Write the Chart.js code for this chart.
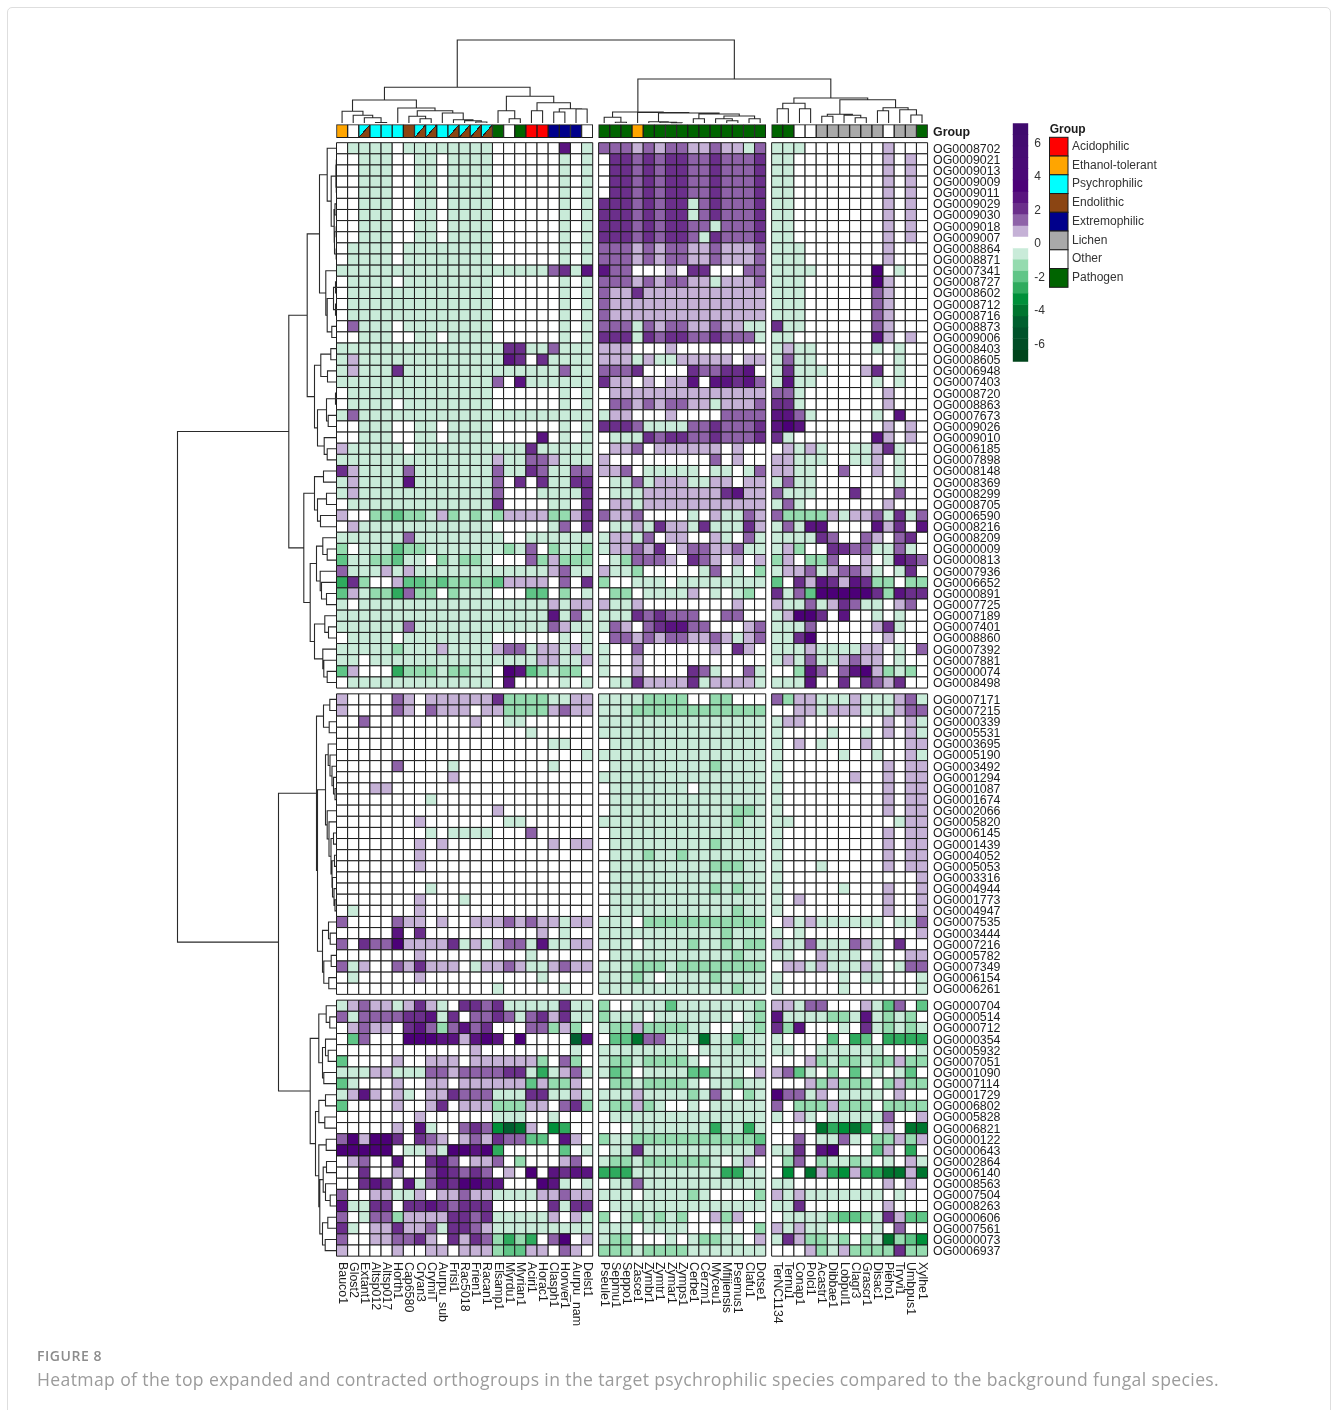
<!DOCTYPE html>
<html>
<head>
<meta charset="utf-8">
<title>Figure 8</title>
<script src="https://cdn.jsdelivr.net/npm/chart.js@4"></script>
<style>
  html, body { margin: 0; background: #fff; width: 1333px; height: 1410px; overflow: hidden; }
  #card { position: absolute; left: 7px; top: 7px; width: 1322px; height: 1440px; border: 1px solid #dedede; border-radius: 5px; }
  #main { position: absolute; left: 0; top: 0; }
  #scaleBar { position: absolute; left: 1005px; top: 110px; }
  #figNo { position: absolute; left: 37px; top: 1346px; font: 600 14px "Open Sans", sans-serif; letter-spacing: 0.55px; color: #8c8c8c; }
  #caption { position: absolute; left: 37px; top: 1367px; font: 17.6px "Open Sans", sans-serif; letter-spacing: 0.36px; color: #9b9b9b; white-space: nowrap; }
</style>
</head>
<body>
<div id="card"></div>
<canvas id="main" width="1333" height="1410"></canvas>
<canvas id="scaleBar" width="60" height="265"></canvas>
<div id="figNo">FIGURE 8</div>
<div id="caption">Heatmap of the top expanded and contracted orthogroups in the target psychrophilic species compared to the background fungal species.</div>
<script>
// Column names, one list per column cluster
const colsLeft = ['Bauco1','Glost2','Extant1','Altsp012','Altsp017','Horth1','Cap6580','Cryan3','CrymiT','Aurpu_sub','Frisi1','Rac5018','Frien1','Racan1','Elsamp1','Myrdu1','Myrian1','Aciri1','Horac1','Clasph1','Horwer1','Aurpu_nam','Delst1'];
const colsMid = ['Pseule1','Sepmu1','Seppo1','Zasce1','Zymbr1','Zymtr1','Zymar1','Zymps1','Cerbe1','Cerzm1','Myceu1','Mfijiensis','Psemus1','Clafu1','Dotse1'];
const colsRight = ['TerNC1134','Ternu1','Conap1','Polci1','Acastr1','Dibbae1','Lobpul1','Clagr3','Grascr1','Disac1','Pieho1','Tryvi1','Umbpus1','Xylhe1'];

// Row names, one list per row cluster
const rowsTop = ['OG0008702','OG0009021','OG0009013','OG0009009','OG0009011','OG0009029','OG0009030','OG0009018','OG0009007','OG0008864','OG0008871','OG0007341','OG0008727','OG0008602','OG0008712','OG0008716','OG0008873','OG0009006','OG0008403','OG0008605','OG0006948','OG0007403','OG0008720','OG0008863','OG0007673','OG0009026','OG0009010','OG0006185','OG0007898','OG0008148','OG0008369','OG0008299','OG0008705','OG0006590','OG0008216','OG0008209','OG0000009','OG0000813','OG0007936','OG0006652','OG0000891','OG0007725','OG0007189','OG0007401','OG0008860','OG0007392','OG0007881','OG0000074','OG0008498'];
const rowsMiddle = ['OG0007171','OG0007215','OG0000339','OG0005531','OG0003695','OG0005190','OG0003492','OG0001294','OG0001087','OG0001674','OG0002066','OG0005820','OG0006145','OG0001439','OG0004052','OG0005053','OG0003316','OG0004944','OG0001773','OG0004947','OG0007535','OG0003444','OG0007216','OG0005782','OG0007349','OG0006154','OG0006261'];
const rowsLow = ['OG0000704','OG0000514','OG0000712','OG0000354','OG0005932','OG0007051','OG0001090','OG0007114','OG0001729','OG0006802','OG0005828','OG0006821','OG0000122','OG0000643','OG0002864','OG0006140','OG0008563','OG0007504','OG0008263','OG0000606','OG0007561','OG0000073','OG0006937'];

// Group of each column: AC acidophilic, ET ethanol, PS psychro, EN endolithic, EX extremo, LI lichen, OT other, PA pathogen, PE psychro + endolithic
const groupsLeft = ['ET','OT','PE','PS','PS','PS','EN','PE','PE','PS','PE','PE','PE','PE','PA','OT','PA','AC','AC','EX','EX','EX','OT'];
const groupsMid = ['PA','PA','PA','ET','PA','PA','PA','PA','PA','PA','PA','PA','PA','PA','PA'];
const groupsRight = ['PA','PA','OT','OT','LI','LI','LI','LI','LI','LI','OT','LI','LI','PA'];

// Binned log ratios. '.' is 0, digits 1..5 rising, letters a..g falling
const topLeft = [
'.aaaa.aaaaaaaa......4.a','..aaa..aa.aaaa......a.a','..aaa..aa.aaaa......a.a','..aaa..aa.aaaa......a.a','..aaa..aa.aaaa......a.a','..aaa..aa.aaaa......a.a','..aaa..aa.aaaa......a.a','..aaa..aa.aaaa......a.a','..aaa..aa.aaaa......a.a',
'.aaaa.aaaaaaaa......a.a','.aaaa.aaaaaaaa......a.a','aaaaaaaaaaaaaaaaaaa23a4','.aaaa.aaaaaaaa......a.a','.aaaaaaaaaaaaa......a.a','.aaaaaaaaaaaaa......a.a','.aaaaaaaaaaaaa......a.a','.2aaa.aaaaaaaa......a.a','..aaa..aa.aaaa......a.a',
'aaaaaaaaaaaaaaa33aa2aaa','a1aaaaaaaaaaaaa43.3aaaa','a1aaa3aaaaaaaaaaaaaa2aa','aaaaaaaaaaaaaa2.4aaaaaa','.aaaaaaaaaaaaa......a.a','.aaaa.aaaaaaaa......a.a','a2aaaaaaaaaaaaaaaaaaaaa','..aaa..aa.aaaa......a.a','..aaa..aa.aaaa....4.a.a',
'1aaaaa.aaaaaaaaaa3aaaaa','aaaaaaaaaaaaaa1aa221aaa','31aaaa2aaaaaaa2aa32aa22','a1aaaa4aaaaaaa2.3.3aa33','a1aaaaaaaaaaaa2...aaaa3','.aaaaaaaaaaaaa3....aa.3','1..bbcbba1babab1111bb13','.1aaaaaaaaaaaa.....a2.3','aaaaaa2aaaaaaaa..aaaaaa',
'b.aaacbbaaaaaaaba2.baab','caabbcaa.babba...2b1bbb','2aaa1a1aaaaaaaaaaaa12aa','d3b..1ccbcbbbbc1111.2.3','c1abbd2bb.baaa...cc.b.a','a.aaaaaaaaaaaaaaaaa1a11','aaaaaaaaaaaaaaaaaaa4a2a','aaaaaa2aaaaaaaaaaaa21aa','.aaaa.aaaaaaaa......a.a',
'aaaaabaaa1aaaa122a11a1a','aa.aaaaaaaaaaaaaaa11aa1','c1...dbbbabbaa.54cbabb.','.aaaaaaaaaaaaa.4....a.a'];
const topMid = [
'2221212211211a2','.33232332232223','.33232332232223','.33232332232223','.33232332232223','33323233a232223','33323233a232223','3332323322a2223','333232332a32223','222121221121112','222121221121112','422...1.33...22','2221212211a1112','211311111111111','211111111111111','211111111111111','222a212211211aa','333a3233223222a',
'111...1........','111a1aa11111.11','2223....322334.','311.1.114.44342','.11111111111111','.221212211a1112','a11...1....2222','3332aaaa2232223','.aaa32332232223','.112.111111.1..','1.........2.1..','112.aaaaa.aa.a2','.aa2a111aa11.11','.aaa11111113411','.11a11111111111','2112....a.1aa21','.aa1a311a3aaa31','a11a2.11..1a.2a',
'a11213.122112aa','.ab2221.321.1.1','1aab.....a2.a.b','b..aaa.aaaaaaaa','.bb.aaaa1.a.ab.','1aa1........1..','aaa323222..22..','a21.234422...12','.22121221121a12','a..2......1.31.','a..1...........','a..1....32a..2a','.aa311113a1111a'];
const topRight = [
'aaa.......1...','aa........1.1.','aa........1.1.','aa........1.1.','aa........1.1.','aa........1.1.','aa........1.1.','aa........1.1.','aa........1.1.','aaa.......1...','aaa.......1...','aaaa.....5.a..','aaa......51...','aaa......21...','aaa......21...','aaa......21...','3aa......21...','aa.......41.1.',
'a1aa.....a.a..','a2aa.......a..','a3aaa...13.a..','a4aa.....a.a..','22a.......1...','33a.......1...','442a.....a.4..','454.......1.1.','3a.......41.1.','.1a1a..aa13a..','11aaa..aa1.a..','11aa..2..1.a..','a2aa.......a..','2aaa...3...2..','a2a.......1...','2bbbb1a112a3a2','a2a44....413.4','aaaa32..21.23.',
'a1b..3322aa2a.','b1.bb2..1.a432','a112a1221a.a3.','c.3143143bb.bb','3a2c555553b433','1aa2a132aa.12.','a1553.4..a.a..','aaa2.....13a..','aa35......1...','aaa1aaaa11.a.2','a1a2aa1211.a..','..b42.2451bab.','aaa4..3.3213..'];

const middleLeft = [
'1....21.1111113bbbbaa11','1....21.2111.11bbbb1211','..2.........1..aa......','.................a.....','...................aa..','......................a','.....2....a........a...','..........1............','...11..................','........a..............','..............1........','.......1.......aa......','........a.aaaa...2.....','.......1.1.........1.11',
'.......1...............','.......1...............','.......................','........a..............','.......1...a...........','.a.....1...............','2....211.1..11121211a11','.....4.3..........1.a..','2.322511113a1a122a4aa11','.......1.........a.....','2a1..213111.a1121aa1211','.a.....1..........a....','..............a.....a..'];
const middleMid = [
'aaaabbbb..bb...','aaabbbbbbbbbbbb','aaaaaaaaaaaaaaa','aaaaaaaaaaaaaaa','.aaaaaaaaaaaaaa','aaaaaaaaaaaaaaa','.aaaaaaaaabaaaa','aaaaaaaaaaaaaaa','.aaaaaaa.aaaaaa','.aaaaaaaaaaaaaa','.aaaaaaaaaaabba','aaaaaaaaaaaabaa','.aaaaaaaaaaaaaa','.aaaaaaaaabaaaa',
'.aaabaabaaaaaaa','.aaaaaaaaabbbaa','.aaaaaaaaaaaaaa','.aaaaaaaaababaa','.aaaaaaaaaaaaaa','.aaaaaaaaaaabaa','aaa.bbbbbbbbbbb','aaaaaaaaaaabaaa','aaa.aaaabaababb','.aaaaaaaaaaabaa','aaabbbabbbbbbbb','aaaba.aaaabaaaa','aaaaaaaaaaaabaa'];
const middleRight = [
'2b11aaa1aaa12a','..11a111aaa122','a11.......1.1a','a....a..a.1.1a','a.1.a...1...11','a.....a..a..1a','a.........1.11','a......1..1.11','a.........1.11','a.........1.11','a.........1.11','aa.........a11','a.........1.11','a.........1.11',
'a.........1.11','a...a.....1.11','a............1','a.....a...1..1','a.1.......1..1','a.........1..1','.1a1aaaaaa.aa2','a.a..........1','1aa2aaa21a.3..','aa..1aaa.a..11','.11a1aaa1a.a22','a.....a.aa...a','a.....a......a'];

const lowLeft = [
'a1211a131a.3323aaaaa3aa','2a2222334a3.2232a2313aa','.1211.342b2423...22b1b.','.c2...555441454.5....g4','............1........a.','c....1..111.111111b.2b.','aaa11aaa221222233ada12a','ca...1..11.111111c1bb1.','a141.1a.113222aaa33aa1a','c....1..13.111bbb11.23b','.......1......aaa..a...','.....1.4a..232egf1.ed..',
'251553.321.121322cc.41.','55555.aa1a5545d.....c.a','.12..4..342.112.b...12.','..3..1..243232.1.5.4344','..343.4a2435544...54a.a','2..11aa1.11211aaaa11211','4aa33.33432333.....3a33','2.a22b11113323aaaaa1.1a','3a.113112a3321aaaaaaaaa','2..112231.3132bdbd.25.1','1....1..11.111bcc11.21.'];
const lowMid = [
'b..aaacaaaaaaab','baaa.aaaaaaa.ab','abb1bbbbaa..aab','.ccf22aaafaacaa','aaaaaaaa.aaaaaa','abbabbbba.aaaaa','acb.aaaaccaaa.1','.bbabbbba.aabaa','aaa1aaaaba2a.ba','abb1ba..a.aaaaa','.aaaaaaaaaaaaaa','...aaaaaaadaada',
'baabbbbbbbbbbbc','.aa3aaaaaaaaaa2','abbabbbbbba.a1.','dddaaaaaaaaddaa','.aa2aaaaaaaaaaa','aaa.aaaaba....b','.aaaaaaaaaaaaaa','b.ababab..1b1..','aaa.aaaa...a..b','abb...a.abbaa.1','bbbabbbbaaaaaaa'];
const lowRight = [
'11a22...1ac2.c','4aaaabba4abab.','3b4...a.3ababa','a....c.dc.dddd','aa..aaaaaa...a','...1babbabb1bb','12ca.b.c.a.ac.','...1b1bbb.b1bb','522a1.aaaa.1..','2.bbb1bbb.bbbb','a.1a.aaaaa2..1','....fdefd.1.ff',
'..2.aa2a.bb1b1','aa3.45...c1.d.','.b2.baaba.a.1a','.e.f1de1ddff1f','aa........1.1.','1a1aaaaaaa.a..','aa3.......1...','.aaaabccba31cc','1a1aa....a.2..','a31bbab.bafbce','...1ba1bbbb3bb'];

// Dendrograms: [left child, right child, merge height]; plain numbers are leaves
const treeLeftCols = [[[0,[1,[2,[3,4,0.5],5.3],7.7],11.7],[5,[[6,[7,8,4.3],6.7],[9,[10,[11,[12,13,1],2.3],3.3],10],12.3],15],23],[[14,[15,16,4.3],12.3],[[17,18,12.3],[[19,20,11],[21,22,14],14.3],20.3],26.7],35.7];
const treeMidCols = [[23,[24,25,0.7],5.7],[26,[[27,[28,[29,30,0.3],0.7],1.2],[[31,32,4.3],[[33,[34,35,2.3],4.3],[36,37,4.3],7],9],10],10.5],11];
const treeRightCols = [[[38,39,14.3],[40,41,14.3],19.7],[[[42,43,6.7],[44,[45,46,5.3],7.7],8.7],[[47,48,12.3],[49,[50,51,8],13.3],15.3],23.3],25];
const colTree = [treeLeftCols, [treeMidCols, treeRightCols, 44], 83];

const treeTopRows = [[[[0,[[[1,2,0.3],[3,4,0.3],0.6],[[5,6,1.5],[[7,8,0.5],[9,10,0.5],2],2.5],5.3],9.3],[11,[[[12,13,1],[14,15,1],3],[16,17,4.7],9.3],10.7],17],[[[18,19,5.7],[20,21,9],15.7],[[[22,23,1],[24,25,8.3],10],[26,[27,28,9.3],12.3],19],22],29.3],[[[29,30,13],[[31,32,10],[33,34,16],19],22],[[[35,[36,37,9.3],13.7],[38,[39,[40,41,10],15],16.3],20],[[42,[43,44,8],11.7],[45,[46,[47,48,9.3],12.7],13.7],22],26.3],32.7],47.7];
const treeMiddleRows = [[[49,50,6.7],[51,52,7.3],13],[[[53,[54,[55,[56,[57,58,1.5],3],4.5],6.5],8.3],[59,[60,[[61,62,3],[[63,64,2],[65,[66,[67,68,1.5],2.5],4],4.5],5.5],7.5],9.3],11],[[69,[70,71,6.3],8],[[72,73,5.3],[74,75,7.7],12.7],14],19],20];
const treeLowRows = [[[76,[77,78,6.7],10.3],[[79,[80,81,8.3],11],[82,83,12.7],14],17.7],[[[84,85,11],[86,87,11.7],17.7],[[88,89,10.3],[[[90,91,10],[92,[93,94,6.3],11],13.3],[[95,96,8.7],[97,98,11.3],14],16.7],17.7],21],26.3];
const rowTree = [treeTopRows, [treeMiddleRows, treeLowRows, 58], 159];

// Colour scale
const scaleEdges = [7.19,6.51,5.84,5.16,4.48,3.81,3.13,2.45,1.78,1.1,0.43,-0.25,-0.92,-1.6,-2.28,-2.95,-3.63,-4.31,-4.98,-5.66,-6.33,-7.05];
const scaleColors = ['#3f0a6e','#420b70','#450b73','#480a75','#4a0877','#4c0078','#5a1480','#6b2f8b','#8e62a8','#c5b1d6','#ffffff','#c9ebd9','#95dbaf','#60c587','#2fab5e','#00903a','#00752f','#005f2e','#00522a','#004d26','#00441b'];
const scaleTicks = [6, 4, 2, 0, -2, -4, -6];

const cellColors = {
  '.': '#ffffff', 1: '#c5b1d6', 2: '#8e62a8', 3: '#6b2f8b', 4: '#5a1480', 5: '#4c0078',
  a: '#c9ebd9', b: '#95dbaf', c: '#60c587', d: '#2fab5e', e: '#00903a', f: '#00752f', g: '#005f2e',
};
const groupLegend = [
  ['AC', 'Acidophilic', '#ff0000'], ['ET', 'Ethanol-tolerant', '#ffa500'], ['PS', 'Psychrophilic', '#00ffff'], ['EN', 'Endolithic', '#8b4513'],
  ['EX', 'Extremophilic', '#00008b'], ['LI', 'Lichen', '#a9a9a9'], ['OT', 'Other', '#ffffff'], ['PA', 'Pathogen', '#006400'],
];
const groupColor = Object.fromEntries(groupLegend.map((g) => [g[0], g[2]]));

// Layout of the grid in canvas pixels
const W = 1333, H = 1410;
const gridLeft = 336.5, gridTop = 142.7, cellW = 11.14, cellH = 11.13;
const colGap = 0.53, rowGap = 0.52;
const treeBase = 123;
const barTop = -1.617, barBottom = -0.449;
const inkColor = '#1c1c1c', labelFont = '12.4px "Liberation Sans", Arial, sans-serif';

function centers(blocks, gap) {
  const out = [];
  let start = 0;
  blocks.forEach((n) => {
    for (let i = 0; i < n; i++) out.push(start + i + 0.5);
    start += n + gap;
  });
  return out;
}
const colBlocks = [colsLeft, colsMid, colsRight];
const rowBlocks = [rowsTop, rowsMiddle, rowsLow];
const colAt = centers(colBlocks.map((b) => b.length), colGap);
const rowAt = centers(rowBlocks.map((b) => b.length), rowGap);
const allCols = colBlocks.flat();
const allRows = rowBlocks.flat();
const allGroups = [groupsLeft, groupsMid, groupsRight].flat();

// Join the three column panels of each row into one string per row
const matrix = [topLeft, middleLeft, lowLeft].flat().map((s, i) =>
  s + [topMid, middleMid, lowMid].flat()[i] + [topRight, middleRight, lowRight].flat()[i]);

const cells = [];
const cellFill = [];
matrix.forEach((line, r) => {
  [...line].forEach((code, c) => {
    cells.push({ x: colAt[c], y: rowAt[r] });
    cellFill.push(cellColors[code]);
  });
});

function walkTree(node, leafAt, merges) {
  if (typeof node === 'number') return { at: leafAt[node], h: 0 };
  const a = walkTree(node[0], leafAt, merges);
  const b = walkTree(node[1], leafAt, merges);
  merges.push([a, b, node[2]]);
  return { at: (a.at + b.at) / 2, h: node[2] };
}

function treeLines(tree, leafAt, horizontal) {
  const merges = [];
  walkTree(tree, leafAt, merges);
  const pts = [];
  const add = (at, h) => pts.push(horizontal ? { x: h, y: at } : { x: at, y: h });
  merges.forEach(([a, b, h]) => {
    add(a.at, a.h); add(a.at, h); add(b.at, h); add(b.at, b.h);
    pts.push({ x: null, y: null });
  });
  return pts;
}

// Half-and-half fill for the psychrophilic + endolithic columns
function groupFill(ctx) {
  const g = allGroups[ctx.dataIndex];
  if (g !== 'PE') return groupColor[g];
  const { x, y } = ctx.chart.scales;
  const px = x.getPixelForValue(colAt[ctx.dataIndex]);
  const y0 = y.getPixelForValue(barTop), y1 = y.getPixelForValue(barBottom);
  const cy = (y0 + y1) / 2, w = cellW, h = y1 - y0;
  const grad = ctx.chart.ctx.createLinearGradient(px - h / 2, cy - w / 2, px + h / 2, cy + w / 2);
  grad.addColorStop(0, groupColor.PS);
  grad.addColorStop(0.47, groupColor.PS);
  grad.addColorStop(0.47, '#222');
  grad.addColorStop(0.53, '#222');
  grad.addColorStop(0.53, groupColor.EN);
  grad.addColorStop(1, groupColor.EN);
  return grad;
}

// All the text and the group legend go on top of the chart
const labelsPlugin = {
  id: 'heatLabels',
  afterDraw(chart) {
    const { ctx, scales } = chart;
    ctx.save();
    ctx.fillStyle = '#1c1c1c';
    ctx.font = labelFont;
    ctx.textBaseline = 'middle';
    ctx.textAlign = 'left';
    allRows.forEach((name, i) => ctx.fillText(name, 933, scales.y.getPixelForValue(rowAt[i]) + 1));
    allCols.forEach((name, i) => {
      ctx.save();
      ctx.translate(scales.x.getPixelForValue(colAt[i]), 1262);
      ctx.rotate(Math.PI / 2);
      ctx.fillText(name, 0, 0);
      ctx.restore();
    });
    ctx.font = 'bold 12.4px "Liberation Sans", Arial, sans-serif';
    ctx.fillText('Group', 933, 132.5);
    ctx.font = 'bold 12px "Liberation Sans", Arial, sans-serif';
    ctx.fillText('Group', 1049.7, 129.5);
    ctx.font = '12px "Liberation Sans", Arial, sans-serif';
    groupLegend.forEach((g, i) => {
      const top = 137.3 + i * 18.75;
      ctx.fillStyle = g[2];
      ctx.fillRect(1049.5, top, 18.5, 18.75);
      ctx.strokeStyle = inkColor;
      ctx.strokeRect(1049.5, top, 18.5, 18.75);
      ctx.fillStyle = '#333';
      ctx.fillText(g[1], 1072, top + 9.3);
    });
    ctx.restore();
  },
};

new Chart(document.getElementById('main'), {
  type: 'scatter',
  data: {
    datasets: [
      {
        data: cells,
        pointStyle: 'rect',
        pointRadius: cellW / Math.SQRT2,
        pointBackgroundColor: cellFill,
        pointBorderColor: inkColor,
        pointBorderWidth: 1,
      },
      {
        type: 'bar',
        data: colAt.map((x) => ({ x, y: [barTop, barBottom] })),
        barThickness: cellW,
        grouped: false,
        backgroundColor: groupFill,
        borderColor: inkColor,
        borderWidth: 1,
        borderSkipped: false,
      },
      {
        data: treeLines(colTree, colAt, false),
        yAxisID: 'height',
        showLine: true,
        pointRadius: 0,
        borderColor: '#2a2a2a',
        borderWidth: 1.1,
      },
      {
        data: treeLines(rowTree, rowAt, true),
        xAxisID: 'depth',
        showLine: true,
        pointRadius: 0,
        borderColor: '#2a2a2a',
        borderWidth: 1.1,
      },
    ],
  },
  options: {
    responsive: false,
    animation: false,
    events: [],
    layout: { padding: 0, autoPadding: false },
    plugins: { legend: { display: false }, tooltip: { enabled: false } },
    scales: {
      x: { type: 'linear', display: false, offset: false, min: -gridLeft / cellW, max: (W - gridLeft) / cellW },
      y: { type: 'linear', display: false, reverse: true, min: -gridTop / cellH, max: (H - gridTop) / cellH },
      depth: { type: 'linear', axis: 'x', display: false, reverse: true, min: gridLeft - W, max: gridLeft },
      height: { type: 'linear', axis: 'y', display: false, min: treeBase - H, max: treeBase },
    },
  },
  plugins: [labelsPlugin],
});

// Colour key with its own value axis
new Chart(document.getElementById('scaleBar'), {
  type: 'bar',
  data: {
    labels: ['key'],
    datasets: scaleColors.map((color, i) => ({
      data: [[scaleEdges[i + 1], scaleEdges[i]]],
      backgroundColor: color,
      grouped: false,
      barPercentage: 1,
      categoryPercentage: 1,
    })),
  },
  options: {
    responsive: false,
    animation: false,
    events: [],
    layout: { padding: { left: 7.7, top: 13.3, bottom: 9, right: 0 }, autoPadding: false },
    plugins: { legend: { display: false }, tooltip: { enabled: false } },
    scales: {
      x: { display: false },
      y: {
        position: 'right',
        min: -7.05,
        max: 7.19,
        grid: { display: false, drawTicks: false },
        border: { display: false },
        afterBuildTicks(scale) { scale.ticks = scaleTicks.map((value) => ({ value })); },
        afterFit(scale) { scale.width = 36.7; },
        ticks: {
          autoSkip: false,
          padding: 6,
          color: '#333',
          font: { family: '"Liberation Sans", Arial, sans-serif', size: 12 },
        },
      },
    },
  },
});
</script>
</body>
</html>
